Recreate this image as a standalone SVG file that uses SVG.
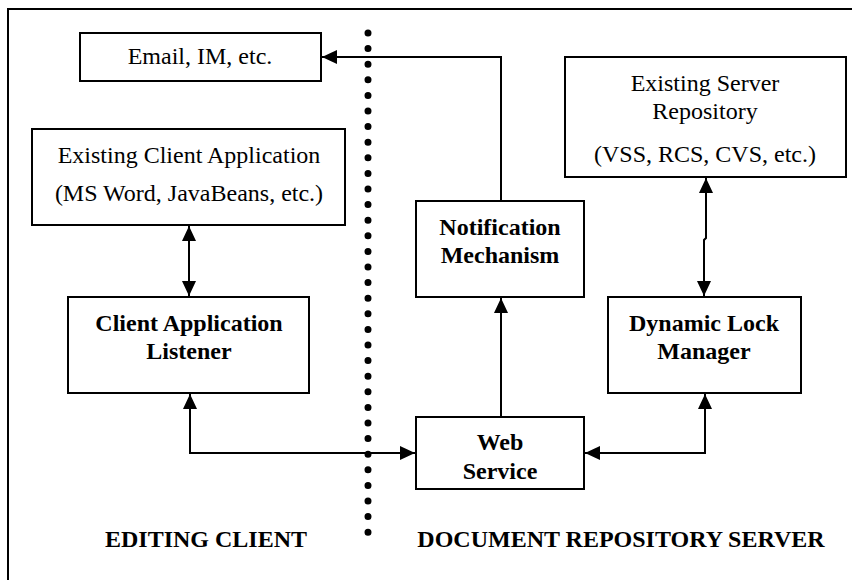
<svg xmlns="http://www.w3.org/2000/svg" width="852" height="580" viewBox="0 0 852 580">
<defs>
<style>
.box{fill:#fff;stroke:#000;stroke-width:2}
.t{font-family:"Liberation Serif","Times New Roman",serif;font-size:24px;text-anchor:middle;fill:#000}
.b{font-weight:bold}
.c{fill:none;stroke:#000;stroke-width:2}
</style>
<marker id="ah" markerUnits="userSpaceOnUse" markerWidth="16" markerHeight="16" viewBox="0 0 16 16" refX="15" refY="8" orient="auto-start-reverse">
<path d="M0,1 L15,8 L0,15 Z" fill="#000"/>
</marker>
</defs>
<rect x="8" y="9" width="870" height="620" fill="none" stroke="#000" stroke-width="2"/>
<g id="divider">
<line x1="368" y1="33" x2="368" y2="547" stroke="#000" stroke-width="7" stroke-linecap="round" stroke-dasharray="0 15.6"/>
</g>
<g id="email">
<rect class="box" x="80" y="33" width="241" height="48"/>
<text class="t" x="200" y="64">Email, IM, etc.</text>
</g>
<g id="client-app">
<rect class="box" x="32" y="129" width="313" height="96"/>
<text class="t" x="189" y="163">Existing Client Application</text>
<text class="t" x="189" y="201">(MS Word, JavaBeans, etc.)</text>
</g>
<g id="listener">
<rect class="box" x="68" y="297" width="241" height="96"/>
<text class="t b" x="189" y="331">Client Application</text>
<text class="t b" x="189" y="359">Listener</text>
</g>
<g id="notification">
<rect class="box" x="416" y="201" width="168" height="96"/>
<text class="t b" x="500" y="235">Notification</text>
<text class="t b" x="500" y="263">Mechanism</text>
</g>
<g id="web-service">
<rect class="box" x="416" y="417" width="168" height="72"/>
<text class="t b" x="500" y="450">Web</text>
<text class="t b" x="500" y="479">Service</text>
</g>
<g id="server-repo">
<rect class="box" x="565" y="57" width="281" height="120"/>
<text class="t" x="705" y="91">Existing Server</text>
<text class="t" x="705" y="119">Repository</text>
<text class="t" x="705" y="162">(VSS, RCS, CVS, etc.)</text>
</g>
<g id="lock-manager">
<rect class="box" x="608" y="297" width="193" height="96"/>
<text class="t b" x="704" y="331">Dynamic Lock</text>
<text class="t b" x="704" y="359">Manager</text>
</g>
<g id="labels">
<text class="t b" x="206" y="547">EDITING CLIENT</text>
<text class="t b" x="621" y="547">DOCUMENT REPOSITORY SERVER</text>
</g>
<g id="connectors">
<path class="c" d="M189,226 L189,296" marker-start="url(#ah)" marker-end="url(#ah)"/>
<path class="c" d="M190,394 L190,453 L415,453" marker-start="url(#ah)" marker-end="url(#ah)"/>
<path class="c" d="M501,417 L501,298" marker-end="url(#ah)"/>
<path class="c" d="M501,201 L501,57 L322,57" marker-end="url(#ah)"/>
<path class="c" d="M706,178 L706,238 L704,240 L704,296" marker-start="url(#ah)" marker-end="url(#ah)"/>
<path class="c" d="M705,394 L705,453 L585,453" marker-start="url(#ah)" marker-end="url(#ah)"/>
</g>
</svg>
